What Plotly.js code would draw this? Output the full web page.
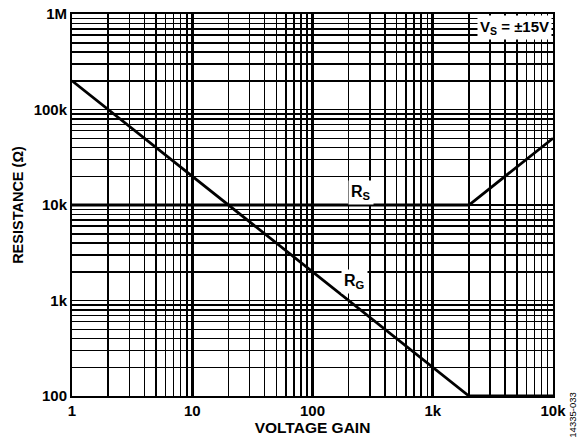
<!DOCTYPE html>
<html>
<head>
<meta charset="utf-8">
<script src="https://cdn.plot.ly/plotly-3.0.1.min.js"></script>
<style>html,body{margin:0;padding:0;background:#fff;}#chart{width:581px;height:442px;}</style>
</head>
<body>
<div id="chart"></div>
<script>
// Data
const gainRG = [1, 2000, 10000];
const resRG  = [200000, 100, 100];
const gainRS = [1, 2000, 10000];
const resRS  = [10000, 10000, 50000];

const xTickVals = [1, 10, 100, 1000, 10000];
const xTickText = ["1", "10", "100", "1k", "10k"];
const yTickVals = [100, 1000, 10000, 100000, 1000000];
const yTickText = ["100", "1k", "10k", "100k", "1M"];

function minorVals(lo, hi) {
  const out = [];
  for (let d = lo; d < hi; d *= 10) {
    for (let k = 2; k <= 9; k++) out.push(d * k);
  }
  return out;
}

const font = "Liberation Sans, Arial, sans-serif";

const traces = [
  {x: gainRS, y: resRS, mode: "lines", line: {color: "#000", width: 2.8}, hoverinfo: "skip"},
  {x: gainRG, y: resRG, mode: "lines", line: {color: "#000", width: 2.8}, hoverinfo: "skip"}
];

const axisCommon = {
  type: "log",
  showline: true, mirror: true, linecolor: "#000", linewidth: 2,
  showgrid: true, gridcolor: "#000",
  ticks: "", zeroline: false,
  tickfont: {family: font, size: 15, color: "#000"}
};

const layout = {
  width: 581, height: 442,
  margin: {l: 72, r: 28, t: 14, b: 46},
  paper_bgcolor: "#fff", plot_bgcolor: "#fff",
  showlegend: false,
  xaxis: Object.assign({}, axisCommon, {
    range: [0, 4],
    gridwidth: 2.6,
    tickmode: "array", tickvals: xTickVals, ticktext: xTickText.map(t => "<b>" + t + "</b>"),
    minor: {tickmode: "array", tickvals: minorVals(1, 10000), showgrid: true, gridcolor: "#000", gridwidth: 1.5, ticks: ""},
    title: {text: "<b>VOLTAGE GAIN</b>", font: {family: font, size: 15.5, color: "#000"}, standoff: 2}
  }),
  yaxis: Object.assign({}, axisCommon, {
    range: [2, 6],
    gridwidth: 1.6,
    tickmode: "array", tickvals: yTickVals, ticktext: yTickText.map(t => "<b>" + t + "</b>"),
    minor: {tickmode: "array", tickvals: minorVals(100, 1000000), showgrid: true, gridcolor: "#000", gridwidth: 1.5, ticks: ""},
    title: {text: "<b>RESISTANCE (Ω)</b>", font: {family: font, size: 14.5, color: "#000"}, standoff: 7}
  }),
  annotations: [
    {xref: "x", yref: "y", x: Math.log10(255), y: Math.log10(13600), text: "<b>R<sub>S</sub></b>", showarrow: false,
     font: {family: font, size: 16, color: "#000"}, bgcolor: "#fff", borderpad: 2},
    {xref: "x", yref: "y", x: Math.log10(222), y: Math.log10(1600), text: "<b>R<sub>G</sub></b>", showarrow: false,
     font: {family: font, size: 16, color: "#000"}, bgcolor: "#fff", borderpad: 2},
    {xref: "paper", yref: "paper", x: 0.998, y: 0.998, xanchor: "right", yanchor: "top",
     text: "<b>V<sub>S</sub> = ±15V</b>", showarrow: false,
     font: {family: font, size: 15, color: "#000"}, bgcolor: "#fff", borderpad: 2},
    {xref: "paper", yref: "paper", x: 1.04, y: -0.115, xanchor: "center", yanchor: "bottom",
     text: "14335-033", showarrow: false, textangle: -90,
     font: {family: font, size: 9.5, color: "#000"}}
  ]
};

Plotly.newPlot("chart", traces, layout, {staticPlot: true, displayModeBar: false});
</script>
</body>
</html>
